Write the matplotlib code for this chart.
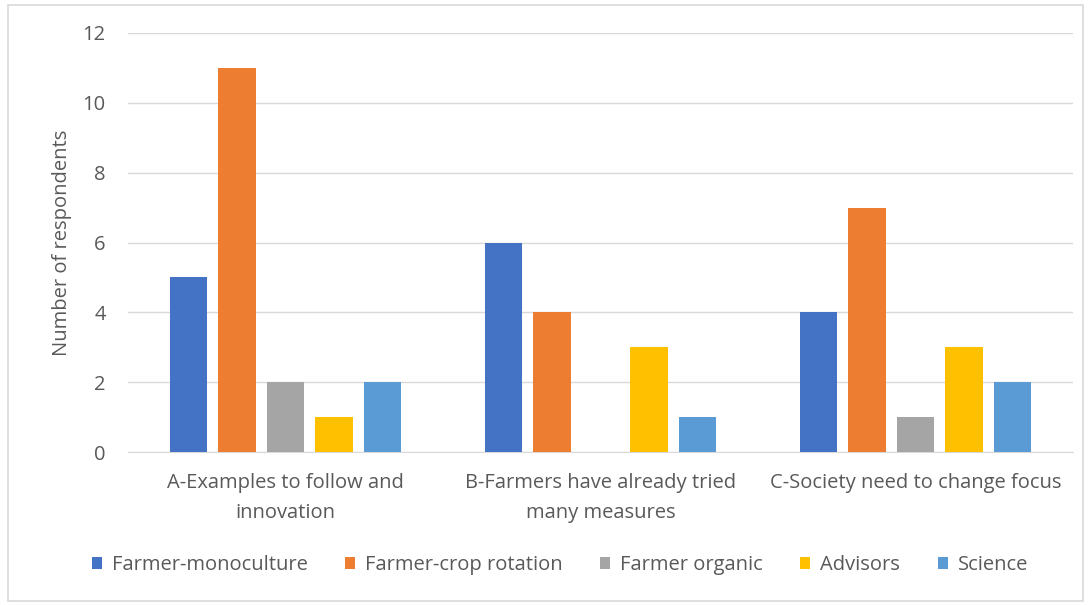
import numpy as np
import matplotlib.pyplot as plt
from matplotlib.patches import Rectangle

categories = ["A-Examples to follow and\ninnovation",
              "B-Farmers have already tried\nmany measures",
              "C-Society need to change focus"]
series = ["Farmer-monoculture", "Farmer-crop rotation", "Farmer organic", "Advisors", "Science"]
monoculture = [5, 6, 4]
crop_rotation = [11, 4, 7]
organic = [2, 0, 1]
advisors = [1, 3, 3]
science = [2, 1, 2]
colors = ["#4472C4", "#ED7D31", "#A5A5A5", "#FFC000", "#5B9BD5"]

W, H = 1091, 605
fig = plt.figure(figsize=(W / 100, H / 100), dpi=100)
plt.rcParams['font.family'] = ['Open Sans', 'DejaVu Sans']
txt = "#595959"
fs = 14.5

# outer border like the Excel chart area
fig.patches.append(Rectangle((8 / W, 4 / H), 1075 / W, 596 / H, transform=fig.transFigure,
                             fill=False, edgecolor="#D9D9D9", linewidth=1.2))

ax = fig.add_axes([128 / W, 1 - 452 / H, 945 / W, 419 / H])
x = np.arange(len(categories))
width = 0.12
pitch = 0.154
values = [monoculture, crop_rotation, organic, advisors, science]
for i, (name, vals) in enumerate(zip(series, values)):
    ax.bar(x + (i - 2) * pitch, vals, width, color=colors[i], label=name, zorder=3)

ax.set_xlim(-0.5, 2.5)
ax.set_ylim(0, 12)
ax.set_yticks(range(0, 13, 2))
ax.grid(axis="y", color="#D9D9D9", linewidth=1, zorder=0)
for s in ["top", "right", "left"]:
    ax.spines[s].set_visible(False)
ax.spines["bottom"].set_color("#D9D9D9")
ax.tick_params(length=0, colors=txt, labelsize=fs)
ax.tick_params(axis="y", pad=16)
ax.tick_params(axis="x", pad=15)
ax.set_xticks(x)
ax.set_xticklabels(categories, linespacing=1.65)
ax.set_ylabel("Number of respondents", color=txt, fontsize=fs, labelpad=8)

fig.legend(loc="center", bbox_to_anchor=(560 / W, 1 - 565 / H), ncol=5, frameon=False,
           fontsize=fs, labelcolor=txt, handlelength=0.5, handleheight=0.5,
           handletextpad=0.5, columnspacing=1.85)

fig.savefig("out.png", dpi=100, facecolor="white")
